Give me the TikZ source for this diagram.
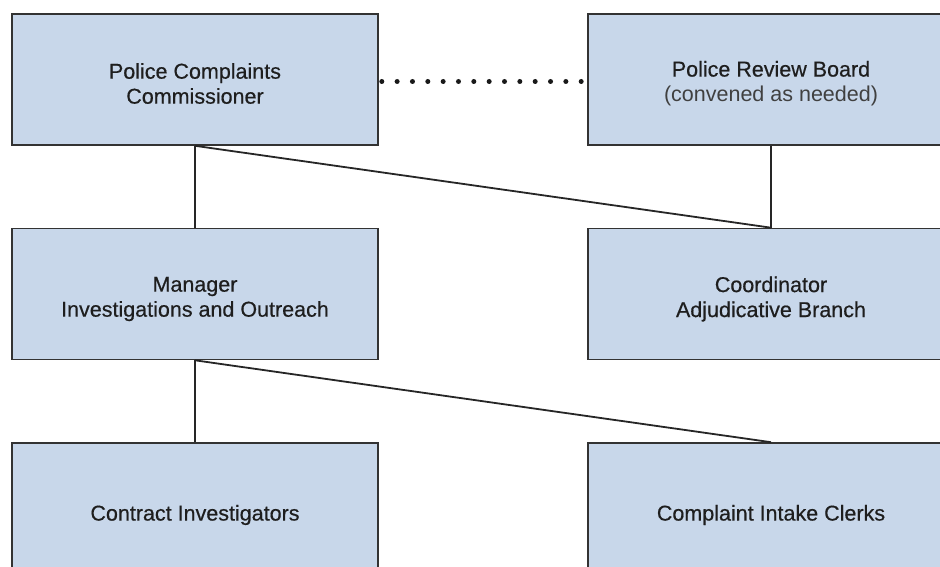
\documentclass[tikz,border=0pt]{standalone}
\usepackage{fontspec}
\setmainfont{Liberation Sans}
\newfontfamily\noteface{Liberation Sans}
\usetikzlibrary{calc}
\definecolor{boxfill}{HTML}{C8D7EA}
\definecolor{boxline}{HTML}{333333}
\definecolor{inktext}{HTML}{1E1E1E}
\begin{document}
\begin{tikzpicture}[x=1pt,y=-1pt,
  orgbox/.style={draw=boxline, line width=1.6pt, fill=boxfill,
    minimum width=366pt, minimum height=131pt, inner sep=0pt},
  boxtext/.style={text=inktext, align=center, inner sep=0pt,
    font=\addfontfeatures{FakeBold=0.5}\fontsize{21.5}{25}\selectfont},
  link/.style={draw=black!85, line width=1.8pt}]
\useasboundingbox (0,0) rectangle (940,567);
\clip (0,0) rectangle (940,567);
% top row
\node[orgbox] (pcc) at (195,79.5) {};
\node[orgbox] (prb) at (771,79.5) {};
% middle row
\node[orgbox] (mgr) at (195,294) {};
\node[orgbox] (coord) at (771,294) {};
% bottom row
\node[orgbox, minimum height=140pt] (ci) at (195,513) {};
\node[orgbox, minimum height=140pt] (cic) at (771,513) {};
% box titles
\node[boxtext] (pcc-t) at ($(pcc)+(0,4)$) {Police Complaints\\Commissioner};
\node[boxtext] (prb-t) at ($(prb)+(0,4)$) {Police Review Board\\{\noteface\fontsize{21.5}{25}\selectfont\color{inktext!85}(convened as needed)}};
\node[boxtext] (mgr-t) at ($(mgr)+(0,5)$) {Manager\\Investigations and Outreach};
\node[boxtext] (coord-t) at ($(coord)+(0,5)$) {Coordinator\\Adjudicative Branch};
\node[boxtext] (ci-t) at ($(ci)+(0,2)$) {Contract Investigators};
\node[boxtext] (cic-t) at ($(cic)+(0,2)$) {Complaint Intake Clerks};
% reporting lines
\draw[link] (pcc.south) -- (mgr.north);
\draw[link] (pcc.south) -- (coord.north);
\draw[link] (prb.south) -- (coord.north);
\draw[link] (mgr.south) -- (ci.north);
\draw[link] (mgr.south) -- (cic.north);
% dotted liaison between commissioner and review board
\coordinate (dl) at ($(pcc.east)+(3,2)$);
\coordinate (dr) at ($(prb.west)+(-6,2)$);
\foreach \i in {0,...,13}
  \fill[black!90] ($(dl)!\i/13!(dr)$) circle (2.5pt);
\end{tikzpicture}
\end{document}
